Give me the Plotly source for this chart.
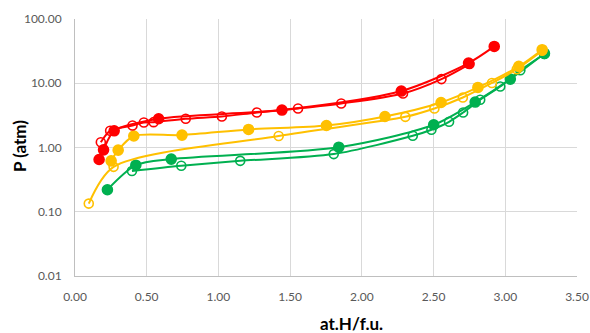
import plotly.graph_objects as go

# Red series
red_abs_x = [0.168, 0.199, 0.273, 0.583, 1.443, 2.275, 2.744, 2.923]
red_abs_p = [0.65, 0.92, 1.82, 2.80, 3.83, 7.56, 20.6, 37.4]
red_des_x = [2.751, 2.555, 2.287, 1.856, 1.555, 1.268, 1.024, 0.772, 0.548, 0.480, 0.401, 0.245, 0.180]
red_des_p = [19.9, 11.6, 6.93, 4.84, 4.05, 3.50, 3.04, 2.80, 2.48, 2.45, 2.20, 1.82, 1.21]

# Yellow series
yel_abs_x = [0.252, 0.301, 0.410, 0.746, 1.210, 1.753, 2.161, 2.552, 2.809, 3.094, 3.257]
yel_abs_p = [0.62, 0.91, 1.51, 1.56, 1.91, 2.20, 3.04, 5.02, 8.60, 18.3, 33.3]
yel_des_x = [3.257, 3.080, 2.907, 2.704, 2.506, 2.303, 1.420, 0.269, 0.096]
yel_des_p = [32.0, 16.5, 10.1, 6.00, 4.05, 3.00, 1.51, 0.50, 0.134]

# Green series
grn_abs_x = [0.226, 0.424, 0.671, 1.839, 2.501, 2.790, 3.035, 3.273]
grn_abs_p = [0.22, 0.53, 0.66, 1.01, 2.26, 5.10, 11.6, 29.1]
grn_des_x = [3.273, 3.105, 2.965, 2.825, 2.706, 2.608, 2.485, 2.355, 1.804, 1.152, 0.741, 0.397]
grn_des_p = [28.5, 15.9, 8.90, 5.53, 3.50, 2.51, 1.89, 1.52, 0.79, 0.62, 0.52, 0.43]

y_ticks = [0.01, 0.1, 1, 10, 100]
y_tick_text = ["0.01", "0.10", "1.00", "10.00", "100.00"]
x_ticks = [0, 0.5, 1.0, 1.5, 2.0, 2.5, 3.0, 3.5]
x_tick_text = ["0.00", "0.50", "1.00", "1.50", "2.00", "2.50", "3.00", "3.50"]

RED, YEL, GRN = "#FF0000", "#FFC000", "#00B050"

fig = go.Figure()

def add(x, y, color, filled, name):
    fig.add_trace(go.Scatter(
        x=x, y=y, mode="lines+markers", name=name,
        line=dict(color=color, width=2, shape="spline", smoothing=0.8),
        marker=dict(
            symbol="circle" if filled else "circle-open",
            size=10 if filled else 9,
            color=color,
            line=dict(color=color, width=1.6),
        ),
    ))

add(grn_des_x, grn_des_p, GRN, False, "green des")
add(grn_abs_x, grn_abs_p, GRN, True, "green abs")
add(yel_des_x, yel_des_p, YEL, False, "yellow des")
add(yel_abs_x, yel_abs_p, YEL, True, "yellow abs")
add(red_des_x, red_des_p, RED, False, "red des")
add(red_abs_x, red_abs_p, RED, True, "red abs")

FONT = "Lato"
fig.update_layout(
    width=590, height=333,
    margin=dict(l=75, r=13, t=19, b=57),
    paper_bgcolor="white", plot_bgcolor="white",
    showlegend=False,
    font=dict(family=FONT, color="#595959", size=12),
    annotations=[
        dict(text="<b>at.H/f.u.</b>", x=351, y=333 - 323, xref="paper", yref="paper",
             showarrow=False, font=dict(family=FONT, size=17, color="black")),
        dict(text="<b>P (atm)</b>", x=19, y=146, showarrow=False, textangle=-90,
             font=dict(family=FONT, size=17, color="black")),
    ],
)
# convert annotation pixel coords to paper coords
pw, ph = 590 - 75 - 13, 333 - 19 - 57
anns = fig.layout.annotations
fig.layout.annotations = [
    dict(anns[0].to_plotly_json(), x=(351 - 75) / pw, y=(276 - 323) / ph, yanchor="middle"),
    dict(anns[1].to_plotly_json(), x=(19 - 75) / pw, y=(276 - 146) / ph, xref="paper", yref="paper", xanchor="center"),
]

fig.update_xaxes(
    range=[0, 3.5], tickvals=x_ticks, ticktext=x_tick_text,
    showgrid=True, gridcolor="#D9D9D9", gridwidth=1,
    showline=True, linecolor="#BFBFBF", linewidth=1,
    zeroline=False, ticks="", tickfont=dict(size=12, color="#595959"),
    ticklabelstandoff=10, automargin=False,
)
fig.update_yaxes(
    type="log", range=[-2, 2], tickvals=y_ticks, ticktext=y_tick_text,
    showgrid=True, gridcolor="#D9D9D9", gridwidth=1,
    showline=True, linecolor="#BFBFBF", linewidth=1,
    zeroline=False, ticks="", tickfont=dict(size=12, color="#595959"),
    ticklabelstandoff=10, automargin=False,
)

fig.write_html("out.html")
